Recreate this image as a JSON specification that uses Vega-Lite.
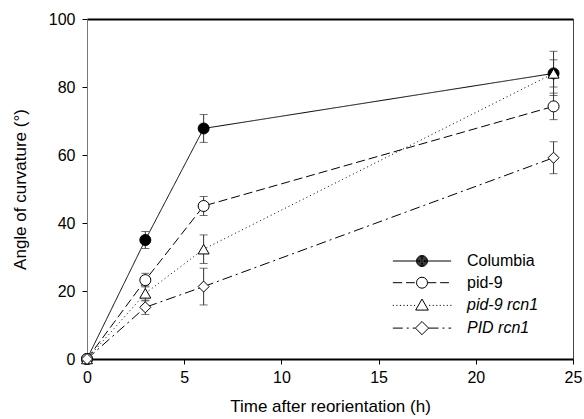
{
  "$schema": "https://vega.github.io/schema/vega-lite/v6.json",
  "autosize": "none",
  "width": 486,
  "height": 340,
  "padding": {"left": 87, "top": 19, "right": 11, "bottom": 60},
  "background": "white",
  "config": {
    "font": "Liberation Sans",
    "view": {"stroke": "#444", "strokeWidth": 1},
    "axis": {
      "grid": false,
      "labelFontSize": 16,
      "titleFontSize": 17,
      "titleFontWeight": "normal",
      "labelColor": "black",
      "titleColor": "black",
      "tickColor": "black",
      "domainColor": "black",
      "tickSize": 5,
      "labelFont": "Liberation Sans",
      "titleFont": "Liberation Sans"
    }
  },
  "data": {
    "values": [
      {"series": "Columbia", "time": 0, "mean": 0, "err": 0},
      {"series": "Columbia", "time": 3, "mean": 35, "err": 2.5},
      {"series": "Columbia", "time": 6, "mean": 67.8, "err": 4.1},
      {"series": "Columbia", "time": 24, "mean": 84, "err": 6.5},
      {"series": "pid-9", "time": 0, "mean": 0, "err": 0},
      {"series": "pid-9", "time": 3, "mean": 23.2, "err": 2},
      {"series": "pid-9", "time": 6, "mean": 45, "err": 2.8},
      {"series": "pid-9", "time": 24, "mean": 74.3, "err": 3.9},
      {"series": "pid-9 rcn1", "time": 0, "mean": 0, "err": 0},
      {"series": "pid-9 rcn1", "time": 3, "mean": 19.3, "err": 2.2},
      {"series": "pid-9 rcn1", "time": 6, "mean": 32.3, "err": 4.2},
      {"series": "pid-9 rcn1", "time": 24, "mean": 84, "err": 4},
      {"series": "PID rcn1", "time": 0, "mean": 0, "err": 0},
      {"series": "PID rcn1", "time": 3, "mean": 15.2, "err": 2.1},
      {"series": "PID rcn1", "time": 6, "mean": 21.3, "err": 5.4},
      {"series": "PID rcn1", "time": 24, "mean": 59.2, "err": 4.7}
    ]
  },
  "resolve": {"scale": {"shape": "independent"}, "axis": {"x": "independent"}},
  "layer": [
    {
      "mark": {"type": "line", "color": "black", "strokeWidth": 1},
      "encoding": {
        "x": {
          "field": "time", "type": "quantitative",
          "scale": {"domain": [0, 25], "nice": false},
          "axis": {"values": [0, 5, 10, 15, 20, 25], "title": "Time after reorientation (h)", "labelPadding": 5, "titlePadding": 13, "domainWidth": 2, "labelFlush": false}
        },
        "y": {
          "field": "mean", "type": "quantitative",
          "scale": {"domain": [0, 100], "nice": false},
          "axis": {"values": [0, 20, 40, 60, 80, 100], "title": "Angle of curvature (°)", "labelPadding": 7, "titlePadding": 19, "domainColor": "#777", "labelFlush": false}
        },
        "strokeDash": {
          "field": "series", "type": "nominal",
          "scale": {"domain": ["Columbia", "pid-9", "pid-9 rcn1", "PID rcn1"], "range": [[1, 0], [9, 4], [1, 3], [10, 4, 2, 4]]},
          "legend": null
        }
      }
    },
    {
      "transform": [{"filter": "datum.err > 0"}],
      "mark": {"type": "errorbar", "ticks": {"size": 8, "color": "#333"}, "rule": {"color": "#333"}},
      "encoding": {
        "x": {"field": "time", "type": "quantitative", "axis": null},
        "y": {"field": "mean", "type": "quantitative", "title": "Angle of curvature (°)"},
        "yError": {"field": "err"}
      }
    },
    {
      "mark": {"type": "point", "filled": true, "stroke": "black", "strokeWidth": 1, "size": 121, "opacity": 1},
      "encoding": {
        "x": {"field": "time", "type": "quantitative", "axis": null},
        "y": {"field": "mean", "type": "quantitative", "title": "Angle of curvature (°)"},
        "shape": {
          "field": "series", "type": "nominal",
          "scale": {"domain": ["Columbia", "pid-9", "pid-9 rcn1", "PID rcn1"], "range": ["circle", "circle", "triangle-up", "diamond"]},
          "legend": null
        },
        "fill": {
          "field": "series", "type": "nominal",
          "scale": {"domain": ["Columbia", "pid-9", "pid-9 rcn1", "PID rcn1"], "range": ["black", "white", "white", "white"]},
          "legend": null
        }
      }
    },
    {
      "transform": [{"filter": "false"}],
      "mark": {"type": "point", "filled": false, "stroke": "black", "strokeWidth": 1, "size": 121, "opacity": 1},
      "encoding": {
        "x": {"field": "time", "type": "quantitative", "axis": {"orient": "top", "labels": false, "ticks": false, "title": null, "domainWidth": 2, "domainColor": "black", "values": [0]}},
        "y": {"field": "mean", "type": "quantitative", "title": "Angle of curvature (°)"},
        "shape": {
          "field": "series", "type": "nominal",
          "scale": {"domain": ["Columbia", "pid-9", "pid-9 rcn1", "PID rcn1"], "range": [
            "M-5.3,0L-1,0M1,0L5.3,0M-1,0A1,1 0 1,0 1,0A1,1 0 1,0 -1,0ZM-0.87,0A0.87,0.87 0 1,0 0.87,0A0.87,0.87 0 1,0 -0.87,0ZM-0.74,0A0.74,0.74 0 1,0 0.74,0A0.74,0.74 0 1,0 -0.74,0ZM-0.61,0A0.61,0.61 0 1,0 0.61,0A0.61,0.61 0 1,0 -0.61,0ZM-0.48,0A0.48,0.48 0 1,0 0.48,0A0.48,0.48 0 1,0 -0.48,0ZM-0.35,0A0.35,0.35 0 1,0 0.35,0A0.35,0.35 0 1,0 -0.35,0ZM-0.22,0A0.22,0.22 0 1,0 0.22,0A0.22,0.22 0 1,0 -0.22,0ZM-0.1,0A0.1,0.1 0 1,0 0.1,0A0.1,0.1 0 1,0 -0.1,0Z",
            "M-5.3,0L-3.6,0M-2.9,0L-1.3,0M1,0L2.6,0M3.3,0L4.9,0M-1,0A1,1 0 1,0 1,0A1,1 0 1,0 -1,0Z",
            "M-5.3,0L-5.1,0M-4.66,0L-4.46,0M-4.02,0L-3.82,0M-3.38,0L-3.18,0M-2.74,0L-2.54,0M-2.1,0L-1.9,0M-1.46,0L-1.26,0M1.3,0L1.5,0M1.94,0L2.14,0M2.58,0L2.78,0M3.22,0L3.42,0M3.86,0L4.06,0M4.5,0L4.7,0M5.14,0L5.34,0M0,-1.15L1.15,0.85L-1.15,0.85Z",
            "M-5.3,0L-3.5,0M-2.77,0L-2.41,0M-1.68,0L-1.2,0M1.2,0L3,0M3.73,0L4.09,0M4.82,0L5.3,0M-1.2,0L0,-1.2L1.2,0L0,1.2Z"
          ]},
          "legend": {
            "orient": "none",
            "legendX": 327,
            "legendY": 234,
            "title": null,
            "padding": 0,
            "symbolSize": 121,
            "symbolStrokeWidth": 1,
            "symbolStrokeColor": "black",
            "symbolOpacity": 1,
            "labelFontSize": 16,
            "labelFont": "Liberation Sans",
            "labelFontStyle": {"expr": "datum.value === 'pid-9 rcn1' || datum.value === 'PID rcn1' ? 'italic' : 'normal'"},
            "labelColor": "black",
            "labelOffset": 37,
            "rowPadding": 5.7
          }
        }
      }
    }
  ]
}
